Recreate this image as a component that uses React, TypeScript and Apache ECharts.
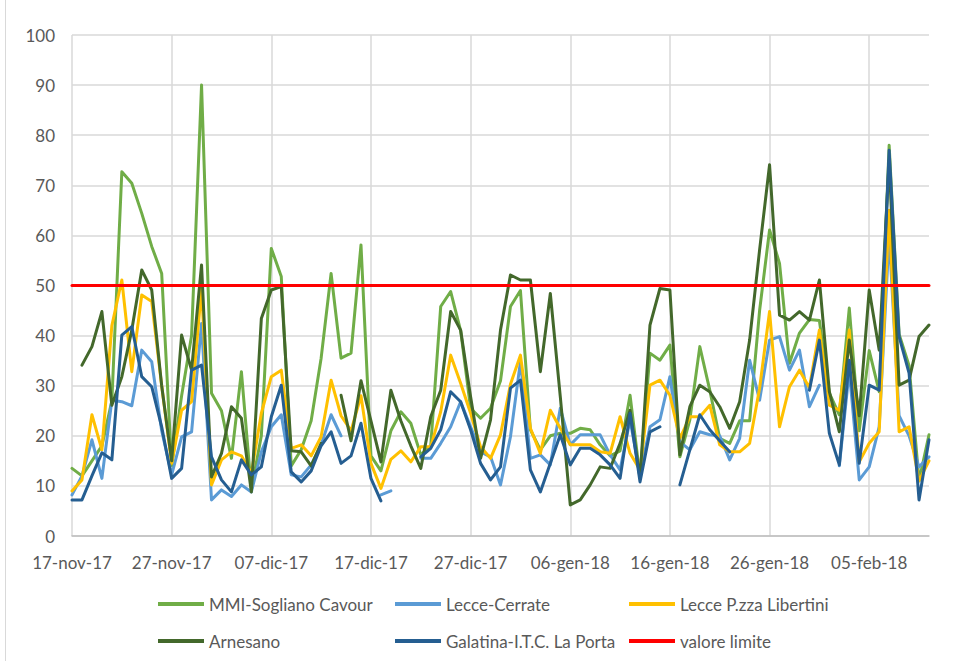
import React, { useEffect, useRef } from "react";
import * as echarts from "echarts";

// ---- DATA ----
const START_DATE = { year: 2017, month: 10, day: 17 }; // 17-nov-17
const DAY_COUNT = 87; // 17-nov-17 .. 11-feb-18
const MONTHS_IT = ["gen", "feb", "mar", "apr", "mag", "giu", "lug", "ago", "set", "ott", "nov", "dic"];

const SERIES_NAMES = [
  "MMI-Sogliano Cavour",
  "Lecce-Cerrate",
  "Lecce P.zza Libertini",
  "Arnesano",
  "Galatina-I.T.C. La Porta",
  "valore limite",
];

const mmiSogliano = [
  13.5, 12, 15, 18, 27, 72.7, 70.4, 64.4, 57.8, 52.4,
  14, 28, 40, 90, 28.5, 25, 15.5, 32.8, 9.2, 20,
  57.4, 51.8, 14, 17.2, 23, 35.5, 52.4, 35.5, 36.5, 58.1,
  16, 13, 21, 24.8, 22.5, 16.2, 18, 45.8, 48.8, 41,
  25.5, 23.5, 25.5, 31, 45.8, 49, 21.2, 17.2, 20, 20.5,
  20.5, 21.5, 21.2, 18.2, 16, 17, 28.1, 11.8, 36.5, 35.1,
  38.1, 15.8, 23.2, 37.8, 29.1, 19.5, 18.5, 23, 23, 45,
  61.1, 54.4, 34.5, 40.5, 43.2, 43, 28.5, 24.2, 45.5, 21,
  37, 28.8, 78, 40.3, 34, 11, 20.2,
];

const lecceCerrate = [
  8.2, 12, 19.2, 11.5, 27.1, 26.8, 26, 37.1, 34.8, 21,
  12.2, 19.8, 20.8, 42.4, 7.2, 9.2, 7.9, 10.2, 8.8, 16.8,
  21.8, 24.2, 12.2, 11.8, 14.2, 18.2, 24.2, 20, null, null,
  null, 8.2, 9, null, null, 15.5, 15.5, 18.5, 21.8, 26.8,
  21.8, 16.8, 15.8, 10.2, 19.8, 34.8, 15.5, 16.2, 14.2, 25.5,
  18.2, 20.2, 20.2, 20.2, 16.2, 13.2, 23.2, 12.2, 21.8, 23.2,
  31.8, 18.8, 17.2, 20.8, 20.2, 20, 15.2, 19.5, 35.1, 27.1,
  39.1, 39.8, 33.1, 37.1, 25.8, 30.1, null, 14, 33, 11.2,
  13.8, 21.8, 60, 24, 20, 13.8, 15.8,
];

const lecceLibertini = [
  9, 11.2, 24.2, 17.2, 42, 51.1, 32.8, 48.1, 46.8, 30,
  14.5, 25.1, 26.8, 49.4, 10.2, 15.2, 16.8, 16, 12.5, 24.5,
  31.8, 33.1, 17.5, 18.2, 16, 19.8, 31.1, 24, 21, 28,
  14.5, 9.5, 15.3, 17, 14.8, 17.8, 17.8, 24.8, 36.1, 30.5,
  24.5, 17.8, 15.5, 20.2, 30.3, 36.1, 21.5, 16.5, 25.1, 21.5,
  18.2, 18.2, 18.2, 16.8, 16.5, 23.8, 16.5, 13.2, 30.1, 31.1,
  28.1, 19.5, 23.8, 23.8, 26.1, 18.2, 16.8, 16.8, 18.5, 29.5,
  44.8, 21.8, 29.8, 33.1, 29.6, 41.1, 26.1, 25.1, 41.1, 14.8,
  18.5, 20.8, 65, 20.8, 21.8, 11, 15,
];

const arnesano = [
  null, 34.1, 37.8, 44.8, 26.1, 31.8, 41.1, 53.1, 49.1, 30,
  15, 40.1, 33.1, 54.1, 11.8, 16.5, 25.8, 23.5, 8.8, 43.4,
  49.1, 49.8, 17, 16.8, 14, 18.5, null, 28.1, 19, 31,
  23, 14.8, 29.1, 23, 18, 13.5, 23.8, 29.1, 44.8, 41.1,
  27.8, 15.5, 23.2, 41.1, 52.1, 51.1, 51.1, 32.8, 48.4, 27.8,
  6.2, 7.2, 10.2, 13.8, 13.5, 18.5, 25.1, 11.5, 42.1, 49.4,
  49.1, 16.2, 25.8, 30.1, 28.8, 25.8, 21.5, 26.8, 39.1, 57.1,
  74.1, 44.1, 43.1, 44.8, 43.1, 51.1, 28.8, 20.8, 39.1, 24,
  49.1, 37.1, 75, 30.1, 31.1, 39.8, 42.1,
];

const galatina = [
  7.2, 7.2, 12, 16.6, 15.2, 40.1, 41.8, 31.8, 29.8, 21.8,
  11.5, 13.5, 33.1, 34.1, 15.8, 11.2, 8.8, 15.2, 12.2, 13.8,
  23.8, 30.1, 12.8, 10.8, 13, 18, 20.8, 14.5, 16, 22.5,
  11.5, 7, null, null, null, 15.8, 17.5, 21.2, 28.8, 26.8,
  21.2, 14.5, 11.2, 13.8, 29.5, 31.1, 13.2, 8.8, 14.5, 20.2,
  14.2, 17.5, 17.5, 16.2, 14.2, 11.5, 24.5, 10.8, 20.8, 21.8,
  null, 10.2, 17.2, 24.2, 21.2, 19, 16.8, null, null, null,
  null, null, null, null, 29.1, 39.1, 20.5, 14.2, 35.1, 14.5,
  30.1, 29.1, 77, 39.8, 32.5, 7.2, 19.2,
];

const LIMIT_VALUE = 50;
const Y_MIN = 0;
const Y_MAX = 100;
const Y_INTERVAL = 10;
const LABEL_EVERY = 10;

// ---- STYLE ----
const COLORS = ["#70AD47", "#5B9BD5", "#FFC000", "#43682B", "#255E91", "#FF0000"];
const FONT = "Lato, 'Liberation Sans', sans-serif";
const TEXT_COLOR = "#595959";
const GRID_COLOR = "#D9D9D9";

function buildDates(): string[] {
  const out: string[] = [];
  for (let i = 0; i < DAY_COUNT; i++) {
    const d = new Date(Date.UTC(START_DATE.year, START_DATE.month, START_DATE.day + i));
    const dd = String(d.getUTCDate()).padStart(2, "0");
    const mm = MONTHS_IT[d.getUTCMonth()];
    const yy = String(d.getUTCFullYear() % 100).padStart(2, "0");
    out.push(`${dd}-${mm}-${yy}`);
  }
  return out;
}

export default function App() {
  const ref = useRef<HTMLDivElement>(null);

  useEffect(() => {
    if (!ref.current) return;
    const chart = echarts.init(ref.current, null, { renderer: "svg" });
    const categories = buildDates();
    const limitData = categories.map(() => LIMIT_VALUE);
    const dataSets = [mmiSogliano, lecceCerrate, lecceLibertini, arnesano, galatina, limitData];

    const legendPos = [
      { left: 158, top: 594 },
      { left: 395, top: 594 },
      { left: 629, top: 594 },
      { left: 158, top: 631 },
      { left: 395, top: 631 },
      { left: 629, top: 631 },
    ];

    chart.setOption({
      animation: false,
      backgroundColor: "#ffffff",
      color: COLORS,
      grid: { left: 72, right: 48, top: 35, bottom: 125, containLabel: false },
      legend: SERIES_NAMES.map((name, i) => ({
        data: [name],
        left: legendPos[i].left,
        top: legendPos[i].top,
        padding: 0,
        icon: "rect",
        itemWidth: 46,
        itemHeight: 4,
        selectedMode: false,
        textStyle: { color: TEXT_COLOR, fontSize: 17, fontFamily: FONT, lineHeight: 20 },
      })),
      xAxis: {
        type: "category",
        data: categories,
        boundaryGap: false,
        axisLine: { show: true, lineStyle: { color: "#BFBFBF", width: 1.5 } },
        axisTick: { show: false },
        axisLabel: {
          interval: LABEL_EVERY - 1,
          color: TEXT_COLOR,
          fontSize: 17,
          fontFamily: FONT,
          margin: 18,
        },
        splitLine: {
          show: true,
          interval: LABEL_EVERY - 1,
          lineStyle: { color: GRID_COLOR, width: 1.5 },
        },
      },
      yAxis: {
        type: "value",
        min: Y_MIN,
        max: Y_MAX,
        interval: Y_INTERVAL,
        axisLine: { show: false },
        axisTick: { show: false },
        axisLabel: { color: TEXT_COLOR, fontSize: 17, fontFamily: FONT, margin: 17 },
        splitLine: { show: true, lineStyle: { color: GRID_COLOR, width: 1.5 } },
      },
      graphic: [
        {
          type: "line",
          shape: { x1: 5.5, y1: 0, x2: 5.5, y2: 661 },
          style: { stroke: GRID_COLOR, lineWidth: 1 },
          silent: true,
        },
      ],
      series: SERIES_NAMES.map((name, i) => ({
        name,
        type: "line",
        data: dataSets[i],
        showSymbol: false,
        symbol: "none",
        connectNulls: false,
        lineStyle: { width: 3, color: COLORS[i], join: "round", cap: "round" },
        itemStyle: { color: COLORS[i] },
        z: 2 + i,
      })),
    });

    return () => {
      chart.dispose();
    };
  }, []);

  return (
    <div
      ref={ref}
      style={{ position: "absolute", left: 0, top: 0, width: 977, height: 661, background: "#fff" }}
    />
  );
}
